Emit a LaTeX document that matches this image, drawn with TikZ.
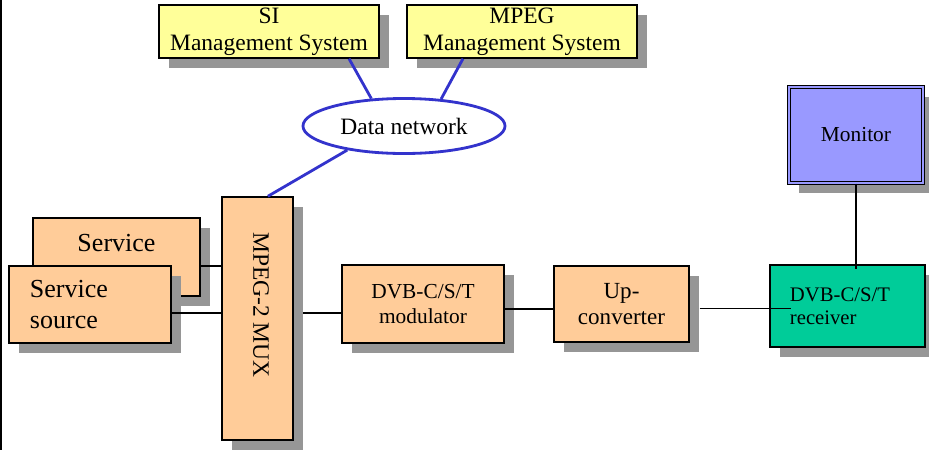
\documentclass[tikz,border=0pt]{standalone}
\usepackage{fontspec}
\setmainfont{Liberation Serif}
\usetikzlibrary{positioning, shapes.geometric, shadows, backgrounds}
\definecolor{mgmtyellow}{RGB}{255,255,153}
\definecolor{boxorange}{RGB}{255,204,153}
\definecolor{rxgreen}{RGB}{0,204,153}
\definecolor{monblue}{RGB}{153,153,255}
\definecolor{netblue}{RGB}{51,51,204}
\definecolor{shadowgray}{RGB}{150,150,150}

\begin{document}
\begin{tikzpicture}[x=0.025cm, y=-0.025cm,
    block/.style={rectangle, draw=black, line width=1pt, fill=boxorange,
      drop shadow={shadow xshift=0.25cm, shadow yshift=-0.25cm, fill=shadowgray, opacity=1},
      font=\fontsize{16.7}{19}\selectfont, align=center, inner sep=0pt},
    mgmt/.style={block, fill=mgmtyellow},
    link/.style={line width=0.9pt, black},
    netlink/.style={line width=2pt, netblue},
  ]
  \useasboundingbox (0,0) rectangle (929,450);
  \draw[line width=1.2pt] (0.8,0) -- (0.8,450);

  % management side
  \node[mgmt, minimum width=5.5cm, minimum height=1.325cm] (si) at (269,31.5) {SI\\Management System};
  \node[mgmt, minimum width=5.75cm, minimum height=1.325cm] (mpegmgmt) at (522,31.5) {MPEG\\Management System};
  \node[ellipse, draw=netblue, line width=2pt, fill=white, minimum width=5.05cm, minimum height=1.375cm,
        inner sep=0pt, font=\fontsize{16.7}{19}\selectfont] (net) at (404,126) {Data network};

  % head-end chain
  \node[block, minimum width=1.775cm, minimum height=6.075cm,
        label={[font=\fontsize{16.7}{19}\selectfont, yshift=9.6pt, xshift=2.5pt, rotate=-90]center:MPEG-2 MUX}] (mux) at (257.5,318.5) {};
  \node[block, minimum width=4.175cm, minimum height=1.95cm,
        label={[font=\fontsize{18.5}{22.7}\selectfont, yshift=10pt]center:Service}] (svc) at (116.5,257) {};
  \node[block, minimum width=4.05cm, minimum height=1.925cm, text width=3cm, inner xsep=0.525cm,
        align=left, font=\fontsize{18.5}{22.7}\selectfont] (src) at (90,304.5) {Service\\source};
  \node[block, minimum width=4.05cm, minimum height=1.95cm, font=\fontsize{15.2}{17.8}\selectfont] (mod) at (423,304) {DVB-C/S/T\\modulator};
  \node[block, minimum width=3.375cm, minimum height=1.9cm, font=\fontsize{16.4}{18.5}\selectfont] (up) at (621.5,304) {Up-\\converter};

  % receiving side
  \node[block, fill=rxgreen, minimum width=3.875cm, minimum height=2.05cm, text width=2.875cm, inner xsep=0.5cm,
        align=left, font=\fontsize{14.7}{16.4}\selectfont] (rx) at (847.5,306) {DVB-C/S/T\\receiver};
  \node[block, fill=monblue, draw=black, double=monblue, double distance=1.5pt, line width=0.8pt,
        minimum width=3.35cm, minimum height=2.4cm, font=\fontsize{15.2}{18}\selectfont] (mon) at (856,135) {Monitor};

  \begin{scope}[on background layer]
    \draw[link] ([yshift=-0.225cm]mod.west -| mux.east) -- ([yshift=-0.225cm]mod.west);
  \end{scope}
  \draw[link] ([yshift=-0.225cm]svc.east) -- ([yshift=-0.225cm]svc.east -| mux.west);
  \draw[link] ([yshift=-0.21cm]src.east) -- ([yshift=-0.21cm]src.east -| mux.west);
  \draw[link] ([yshift=-0.125cm]mod.east) -- ([yshift=-0.125cm]mod.east -| up.west);
  \draw[link] ([shift={(0.25cm,-0.11cm)}]up.east) -- ([shift={(0.55cm,-0.11cm)}]up.east -| rx.west);
  \draw[link] (mon.south) -- ([yshift=-0.125cm]rx.north -| mon.south);

  \draw[netlink] ([xshift=2cm]si.south) -- (net.140);
  \draw[netlink] ([xshift=-1.475cm]mpegmgmt.south) -- (net.36);
  \draw[netlink] (net.203) -- ([xshift=0.26cm]mux.north);
\end{tikzpicture}
\end{document}
